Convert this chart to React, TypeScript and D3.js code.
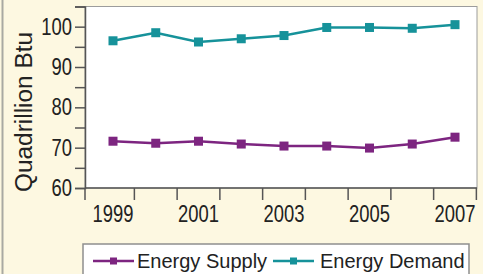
import * as d3 from 'd3';
import React, { useRef, useEffect } from 'react';

const years = [1999, 2000, 2001, 2002, 2003, 2004, 2005, 2006, 2007];
const yearLabels = [1999, 2001, 2003, 2005, 2007];
const energySupply = [71.6, 71.1, 71.6, 70.9, 70.4, 70.4, 69.9, 70.9, 72.6];
const energyDemand = [96.5, 98.5, 96.2, 97.0, 97.8, 99.8, 99.8, 99.6, 100.5];
const yTicks = [60, 70, 80, 90, 100];
const yMinorTicks = [65, 75, 85, 95, 105];
const seriesNames = ['Energy Supply', 'Energy Demand'];
const seriesColors = ['#7d2580', '#16929a'];

function App() {
    const ref = useRef<SVGSVGElement>(null);
    const width = 483, height = 274;

    useEffect(() => {
        const svg = d3.select(ref.current);
        svg.selectAll('*').remove();

        const font = "'Liberation Sans', Arial, sans-serif";
        const squeeze = 0.8; // the axis labels are a condensed face
        const plot = { left: 85, right: 477, top: 6.5, bottom: 188 };

        // background
        svg.append('rect').attr('width', width).attr('height', height).attr('fill', '#fdf8e1');
        svg.append('line')
            .attr('x1', 2.5).attr('x2', 2.5).attr('y1', 0).attr('y2', height)
            .attr('stroke', '#a9a9a2').attr('stroke-width', 2);

        const x = d3.scalePoint<number>().domain(years).range([113, 455]);
        const y = d3.scaleLinear().domain([60, 105]).range([plot.bottom, plot.top]);

        // plot area
        svg.append('rect')
            .attr('x', plot.left).attr('y', plot.top)
            .attr('width', plot.right - plot.left).attr('height', plot.bottom - plot.top)
            .attr('fill', 'white').attr('stroke', '#9c9c9c').attr('stroke-width', 1);

        // y axis
        const gy = svg.append('g').attr('transform', `translate(${plot.left},0)`);
        gy.call(d3.axisLeft(y).tickValues([...yTicks, ...yMinorTicks]).tickSize(10).tickFormat(() => ''));
        gy.select('.domain').attr('stroke', '#555').attr('stroke-width', 1.5);
        gy.selectAll('.tick line').attr('stroke', '#555').attr('stroke-width', 1.5);
        gy.selectAll('.tick text').remove();
        yTicks.forEach(t => {
            gy.append('text')
                .attr('transform', `translate(-13,${y(t) + 8}) scale(${squeeze},1)`)
                .attr('text-anchor', 'end')
                .style('font-family', font).style('font-size', '23px').attr('fill', '#222')
                .text(t);
        });

        // x axis
        const step = x.step();
        const boundaries = [plot.left, ...years.map(d => (x(d) as number) + step / 2)];
        svg.append('line')
            .attr('x1', plot.left).attr('x2', plot.right)
            .attr('y1', plot.bottom).attr('y2', plot.bottom)
            .attr('stroke', '#555').attr('stroke-width', 1.5);
        svg.selectAll('.xtick').data(boundaries).enter().append('line')
            .attr('class', 'xtick')
            .attr('x1', d => d).attr('x2', d => d)
            .attr('y1', plot.bottom).attr('y2', plot.bottom + 12)
            .attr('stroke', '#555').attr('stroke-width', 1.5);
        svg.selectAll('.xlabel').data(yearLabels).enter().append('text')
            .attr('class', 'xlabel')
            .attr('transform', d => `translate(${x(d)},${222}) scale(${squeeze},1)`)
            .attr('text-anchor', 'middle')
            .style('font-family', font).style('font-size', '23px').attr('fill', '#222')
            .text(d => d);

        // y title
        svg.append('text')
            .attr('transform', 'translate(32,112) rotate(-90)')
            .attr('text-anchor', 'middle')
            .attr('textLength', 160).attr('lengthAdjust', 'spacingAndGlyphs')
            .style('font-family', font).style('font-size', '23px').attr('fill', '#222')
            .text('Quadrillion Btu');

        // series
        const series = [energySupply, energyDemand];
        const line = d3.line<number>().x((d, i) => x(years[i]) as number).y(d => y(d));
        series.forEach((vals, si) => {
            svg.append('path')
                .attr('d', line(vals))
                .attr('fill', 'none').attr('stroke', seriesColors[si]).attr('stroke-width', 2.5);
            svg.selectAll('.m' + si).data(vals).enter().append('rect')
                .attr('class', 'm' + si)
                .attr('x', (d, i) => (x(years[i]) as number) - 4.5)
                .attr('y', d => y(d) - 4.5)
                .attr('width', 9).attr('height', 9)
                .attr('fill', seriesColors[si]);
        });

        // legend
        const lg = svg.append('g');
        lg.append('rect')
            .attr('x', 83).attr('y', 244).attr('width', 386).attr('height', 40)
            .attr('fill', 'white').attr('stroke', '#8e8e8e').attr('stroke-width', 1.5);
        const items = [
            { lx: 93, tx: 137 },
            { lx: 273, tx: 320 },
        ];
        items.forEach((it, si) => {
            lg.append('line')
                .attr('x1', it.lx).attr('x2', it.lx + 41).attr('y1', 261).attr('y2', 261)
                .attr('stroke', seriesColors[si]).attr('stroke-width', 2.5);
            lg.append('rect')
                .attr('x', it.lx + 17).attr('y', 257.5).attr('width', 7).attr('height', 7)
                .attr('fill', seriesColors[si]);
            lg.append('text')
                .attr('x', it.tx).attr('y', 268)
                .style('font-family', font).style('font-size', '20px').attr('fill', '#222')
                .text(seriesNames[si]);
        });
    }, []);

    return (
        <svg ref={ref} width={width} height={height} style={{ position: 'absolute', left: 0, top: 0 }}>
        </svg>
    );
}

export default App;
